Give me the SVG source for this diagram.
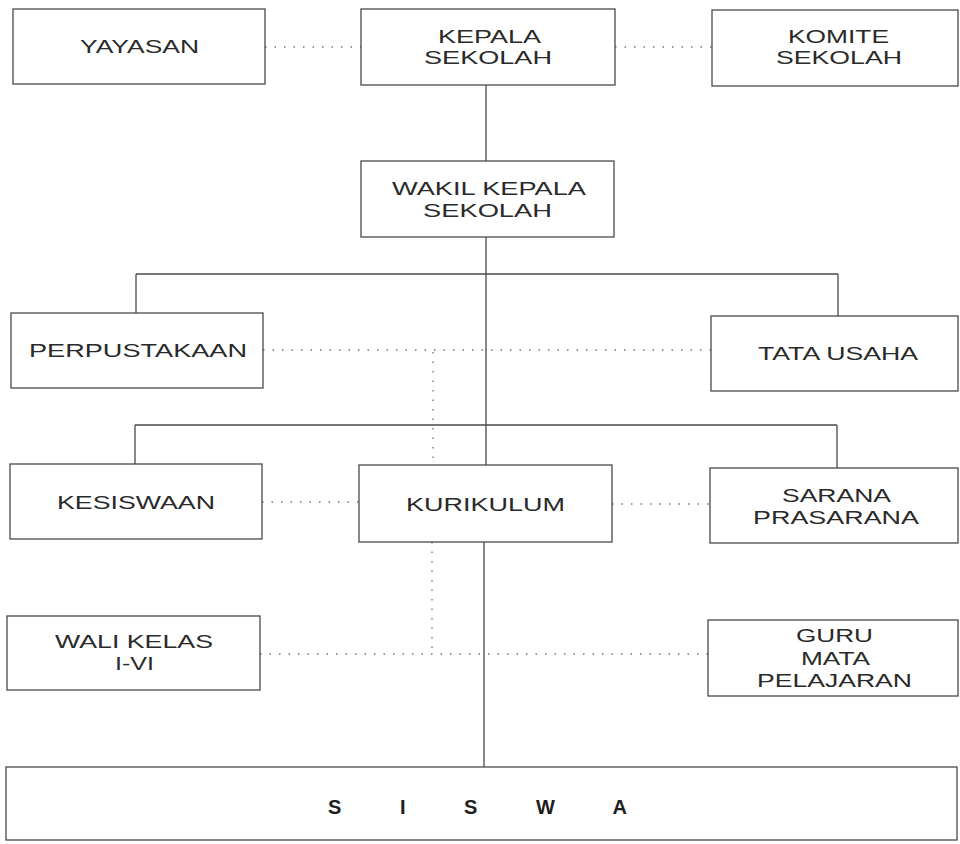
<svg xmlns="http://www.w3.org/2000/svg" width="960" height="844" viewBox="0 0 960 844">
<style>
.box{fill:#fff;stroke:#4a4a4a;stroke-width:1.3}
.t{font-family:"Liberation Sans",Arial,sans-serif;font-size:18.5px;fill:#2a2a2a}
.solid{stroke:#4a4a4a;stroke-width:1.3;fill:none}
.dot{stroke:#777;stroke-width:1.4;fill:none;stroke-dasharray:1.5 8}
</style>
<rect width="960" height="844" fill="#fff"/>
<g id="connectors">
<line class="solid" x1="486" y1="85" x2="486" y2="161"/>
<line class="solid" x1="486" y1="237" x2="486" y2="465"/>
<line class="solid" x1="136" y1="274" x2="838" y2="274"/>
<line class="solid" x1="136" y1="274" x2="136" y2="313"/>
<line class="solid" x1="838" y1="274" x2="838" y2="316"/>
<line class="solid" x1="135" y1="425" x2="837" y2="425"/>
<line class="solid" x1="135" y1="425" x2="135" y2="464"/>
<line class="solid" x1="837" y1="425" x2="837" y2="468"/>
<line class="solid" x1="484" y1="542" x2="484" y2="767"/>
<line class="dot" x1="265" y1="47" x2="361" y2="47"/>
<line class="dot" x1="615" y1="47" x2="712" y2="47"/>
<line class="dot" x1="263" y1="350" x2="711" y2="350"/>
<line class="dot" x1="433" y1="352" x2="433" y2="465"/>
<line class="dot" x1="262" y1="502" x2="359" y2="502"/>
<line class="dot" x1="612" y1="504" x2="710" y2="504"/>
<line class="dot" x1="432" y1="542" x2="432" y2="654"/>
<line class="dot" x1="260" y1="654" x2="708" y2="654"/>
</g>
<g id="yayasan"><rect class="box" x="13" y="9" width="252" height="75"/>
<text class="t" x="80" y="53" textLength="119" lengthAdjust="spacingAndGlyphs">YAYASAN</text></g>
<g id="kepala-sekolah"><rect class="box" x="361" y="9" width="254" height="76"/>
<text class="t" x="438" y="43" textLength="103" lengthAdjust="spacingAndGlyphs">KEPALA</text>
<text class="t" x="424" y="64" textLength="128" lengthAdjust="spacingAndGlyphs">SEKOLAH</text></g>
<g id="komite-sekolah"><rect class="box" x="712" y="10" width="246" height="76"/>
<text class="t" x="788" y="43" textLength="101" lengthAdjust="spacingAndGlyphs">KOMITE</text>
<text class="t" x="776" y="64" textLength="126" lengthAdjust="spacingAndGlyphs">SEKOLAH</text></g>
<g id="wakil-kepala-sekolah"><rect class="box" x="361" y="161" width="253" height="76"/>
<text class="t" x="392" y="195" textLength="194" lengthAdjust="spacingAndGlyphs">WAKIL KEPALA</text>
<text class="t" x="423" y="217" textLength="129" lengthAdjust="spacingAndGlyphs">SEKOLAH</text></g>
<g id="perpustakaan"><rect class="box" x="11" y="313" width="252" height="75"/>
<text class="t" x="29" y="357" textLength="218" lengthAdjust="spacingAndGlyphs">PERPUSTAKAAN</text></g>
<g id="tata-usaha"><rect class="box" x="711" y="316" width="247" height="75"/>
<text class="t" x="758" y="360" textLength="160" lengthAdjust="spacingAndGlyphs">TATA USAHA</text></g>
<g id="kesiswaan"><rect class="box" x="10" y="464" width="252" height="75"/>
<text class="t" x="57" y="509" textLength="158" lengthAdjust="spacingAndGlyphs">KESISWAAN</text></g>
<g id="kurikulum"><rect class="box" x="359" y="465" width="253" height="77"/>
<text class="t" x="406" y="511" textLength="159" lengthAdjust="spacingAndGlyphs">KURIKULUM</text></g>
<g id="sarana-prasarana"><rect class="box" x="710" y="468" width="248" height="75"/>
<text class="t" x="782" y="502" textLength="109" lengthAdjust="spacingAndGlyphs">SARANA</text>
<text class="t" x="753" y="524" textLength="166" lengthAdjust="spacingAndGlyphs">PRASARANA</text></g>
<g id="wali-kelas"><rect class="box" x="7" y="616" width="253" height="74"/>
<text class="t" x="55" y="648" textLength="158" lengthAdjust="spacingAndGlyphs">WALI KELAS</text>
<text class="t" x="115" y="670" textLength="39" lengthAdjust="spacingAndGlyphs">I-VI</text></g>
<g id="guru-mata-pelajaran"><rect class="box" x="708" y="620" width="250" height="76"/>
<text class="t" x="796" y="642" textLength="77" lengthAdjust="spacingAndGlyphs">GURU</text>
<text class="t" x="801" y="665" textLength="69" lengthAdjust="spacingAndGlyphs">MATA</text>
<text class="t" x="757" y="687" textLength="155" lengthAdjust="spacingAndGlyphs">PELAJARAN</text></g>
<g id="siswa"><rect class="box" x="6" y="767" width="951" height="73"/>
<text x="328" y="814" font-family="Liberation Sans, Arial, sans-serif" font-size="20" font-weight="bold" fill="#1e1e1e" letter-spacing="26.5" xml:space="preserve">S I S W A</text></g>
</svg>
